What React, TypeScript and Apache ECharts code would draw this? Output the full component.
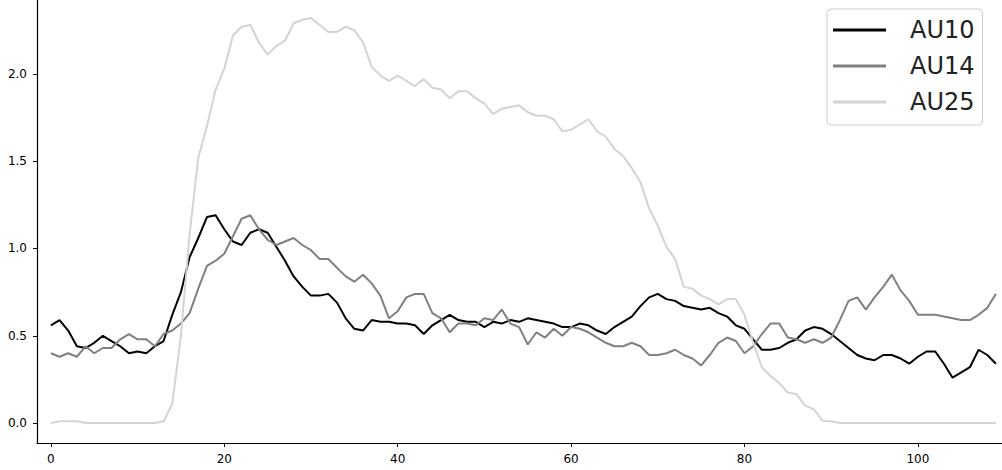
import React, { useEffect, useRef } from "react";
import * as echarts from "echarts";

const seriesNames = ["AU10", "AU14", "AU25"];
const seriesColors = ["#000000", "#808080", "#d3d3d3"];

const au10 = [
  0.56, 0.59, 0.53, 0.44, 0.43, 0.46, 0.5, 0.47, 0.44, 0.4,
  0.41, 0.4, 0.44, 0.47, 0.62, 0.75, 0.95, 1.06, 1.18, 1.19,
  1.11, 1.04, 1.02, 1.09, 1.11, 1.09, 1.01, 0.93, 0.84, 0.78,
  0.73, 0.73, 0.74, 0.69, 0.6, 0.54, 0.53, 0.59, 0.58, 0.58,
  0.57, 0.57, 0.56, 0.51, 0.56, 0.59, 0.62, 0.59, 0.58, 0.58,
  0.55, 0.58, 0.57, 0.59, 0.58, 0.6, 0.59, 0.58, 0.57, 0.55,
  0.55, 0.57, 0.56, 0.53, 0.51, 0.55, 0.58, 0.61, 0.67, 0.72,
  0.74, 0.71, 0.7, 0.67, 0.66, 0.65, 0.66, 0.63, 0.61, 0.56,
  0.54, 0.48, 0.42, 0.42, 0.43, 0.46, 0.48, 0.53, 0.55, 0.54,
  0.51, 0.47, 0.43, 0.39, 0.37, 0.36, 0.39, 0.39, 0.37, 0.34,
  0.38, 0.41, 0.41, 0.34, 0.26, 0.29, 0.32, 0.42, 0.39, 0.34,
];

const au14 = [
  0.4, 0.38, 0.4, 0.38, 0.44, 0.4, 0.43, 0.43, 0.48, 0.51,
  0.48, 0.48, 0.44, 0.51, 0.53, 0.57, 0.63, 0.77, 0.9, 0.93,
  0.97, 1.07, 1.17, 1.19, 1.11, 1.05, 1.02, 1.04, 1.06, 1.02,
  0.99, 0.94, 0.94, 0.89, 0.84, 0.81, 0.85, 0.8, 0.73, 0.6,
  0.64, 0.72, 0.74, 0.74, 0.63, 0.6, 0.52, 0.57, 0.57, 0.56,
  0.6, 0.59, 0.65, 0.57, 0.55, 0.45, 0.52, 0.49, 0.54, 0.5,
  0.55, 0.54, 0.52, 0.49, 0.46, 0.44, 0.44, 0.46, 0.44, 0.39,
  0.39, 0.4, 0.42, 0.39, 0.37, 0.33, 0.39, 0.46, 0.49, 0.47,
  0.4, 0.44, 0.51, 0.57, 0.57, 0.49, 0.48, 0.46, 0.48, 0.46,
  0.49, 0.59, 0.7, 0.72, 0.65, 0.72, 0.78, 0.85, 0.76, 0.7,
  0.62, 0.62, 0.62, 0.61, 0.6, 0.59, 0.59, 0.62, 0.66, 0.74,
];

const au25 = [
  0.0, 0.01, 0.01, 0.01, 0.0, 0.0, 0.0, 0.0, 0.0, 0.0,
  0.0, 0.0, 0.0, 0.01, 0.11, 0.5, 1.08, 1.52, 1.7, 1.91,
  2.03, 2.22, 2.27, 2.28, 2.18, 2.11, 2.16, 2.19, 2.29, 2.31,
  2.32, 2.28, 2.24, 2.24, 2.27, 2.25, 2.18, 2.04, 1.99, 1.96,
  1.99, 1.96, 1.93, 1.97, 1.92, 1.91, 1.86, 1.9, 1.9, 1.86,
  1.83, 1.77, 1.8, 1.81, 1.82, 1.78, 1.76, 1.76, 1.74, 1.67,
  1.68, 1.71, 1.74, 1.67, 1.64, 1.57, 1.53, 1.46, 1.38, 1.23,
  1.13, 1.01, 0.94, 0.78, 0.77, 0.73, 0.71, 0.68, 0.71, 0.71,
  0.62, 0.46, 0.32, 0.27, 0.23, 0.175, 0.165, 0.1, 0.08, 0.013,
  0.01, 0.0, 0.0, 0.0, 0.0, 0.0, 0.0, 0.0, 0.0, 0.0,
  0.0, 0.0, 0.0, 0.0, 0.0, 0.0, 0.0, 0.0, 0.0, 0.0,
];

const xTicks = [0, 20, 40, 60, 80, 100];
const yTicks = [0, 0.5, 1.0, 1.5, 2.0];

const allSeries = [au10, au14, au25];

export default function App() {
  const ref = useRef<HTMLDivElement>(null);
  useEffect(() => {
    if (!ref.current) return;
    const chart = echarts.init(ref.current, undefined, { renderer: "svg" });
    const font = "DejaVu Sans";
    chart.setOption({
      animation: false,
      backgroundColor: "#ffffff",
      grid: { left: 37, right: 0, top: 0, bottom: 27, containLabel: false },
      legend: {
        data: seriesNames,
        orient: "vertical",
        left: 827,
        top: 9,
        icon: "rect",
        itemWidth: 53,
        itemHeight: 3,
        itemGap: 12,
        padding: [9, 8, 11, 6],
        backgroundColor: "rgba(255,255,255,0.85)",
        borderColor: "#cccccc",
        borderWidth: 1,
        borderRadius: 4,
        textStyle: {
          fontFamily: font,
          fontSize: 24,
          color: "#222222",
          padding: [0, 0, 0, 19],
        },
      },
      xAxis: {
        type: "value",
        min: -1.6,
        max: 109.7,
        splitLine: { show: false },
        axisLine: { show: true, onZero: false, lineStyle: { color: "#000", width: 1.2 } },
        axisTick: {
          show: true,
          length: 4,
          customValues: xTicks,
          lineStyle: { color: "#000" },
        },
        axisLabel: {
          customValues: xTicks,
          fontFamily: font,
          fontSize: 12,
          color: "#000",
          margin: 10,
          showMinLabel: true,
          showMaxLabel: true,
        },
      },
      yAxis: {
        type: "value",
        min: -0.114,
        max: 2.423,
        splitLine: { show: false },
        axisLine: { show: true, onZero: false, lineStyle: { color: "#000", width: 1.2 } },
        axisTick: {
          show: true,
          length: 4,
          customValues: yTicks,
          lineStyle: { color: "#000" },
        },
        axisLabel: {
          customValues: yTicks,
          fontFamily: font,
          fontSize: 12,
          color: "#000",
          margin: 10,
          formatter: (v: number) => v.toFixed(1),
        },
      },
      series: seriesNames.map((name, k) => ({
        name,
        type: "line",
        data: allSeries[k].map((v, i) => [i, v]),
        symbol: "none",
        showSymbol: false,
        color: seriesColors[k],
        itemStyle: { color: seriesColors[k] },
        lineStyle: { color: seriesColors[k], width: 2 },
      })),
    });
    return () => chart.dispose();
  }, []);
  return (
    <div
      ref={ref}
      style={{ position: "fixed", left: 0, top: 0, width: 1002, height: 470 }}
    />
  );
}
